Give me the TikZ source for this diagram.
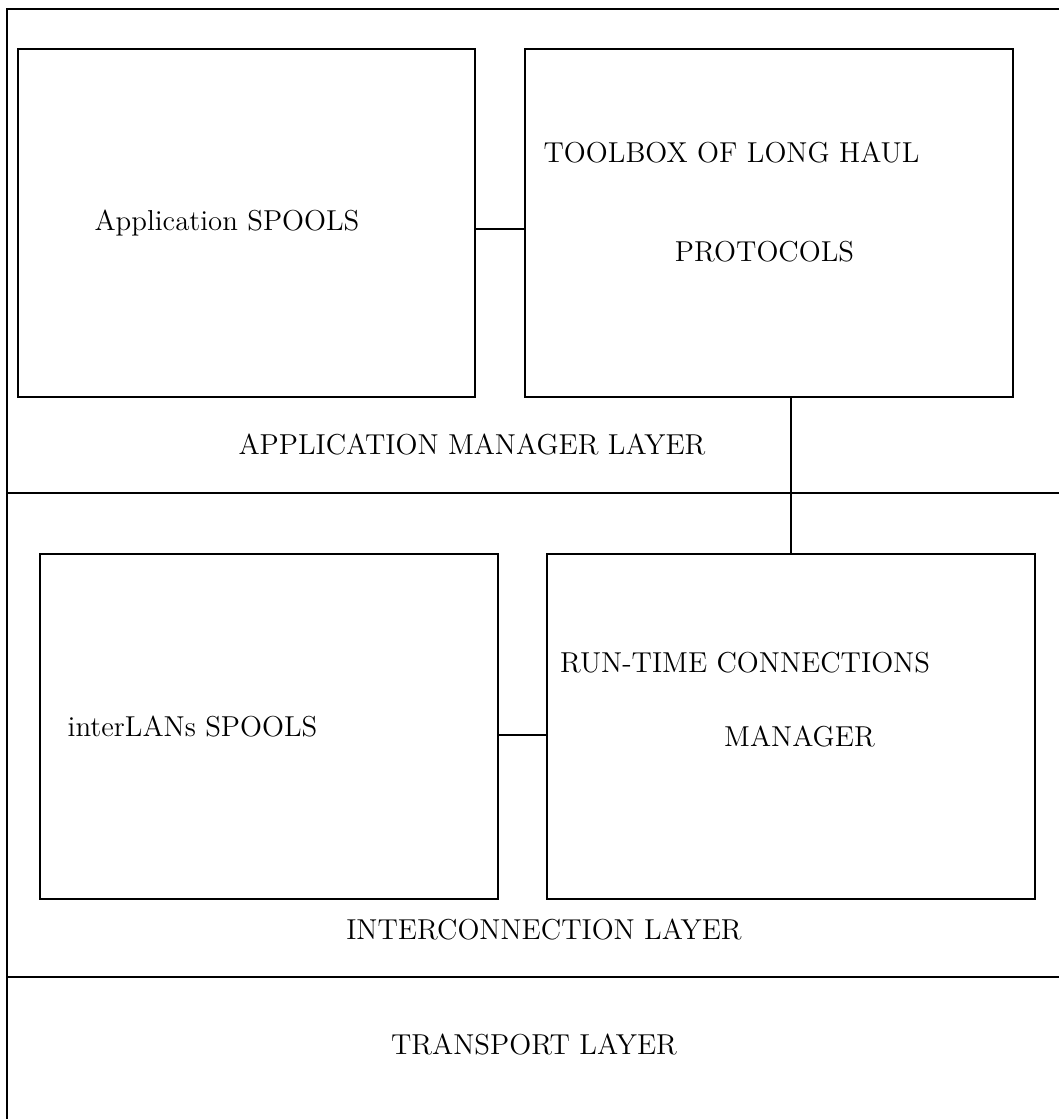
\documentclass[tikz,border=0pt]{standalone}
\usetikzlibrary{positioning}

\begin{document}
\begin{tikzpicture}[x=0.5pt,y=-0.5pt,line width=1.4pt,node distance=25pt,
  box/.style={draw,rectangle,inner sep=0pt,outer sep=0pt},
  lbl/.style={font=\Large,inner sep=0pt,text height=9.8pt,text depth=0pt}]
 \useasboundingbox (0,0) rectangle (1059,1119);

 % frame and layer borders
 \draw (1059,9) -- (7,9) -- (7,1119);
 \draw (7,493) -- (1059,493);
 \draw (7,977) -- (1059,977);

 % application manager layer
 \node[box,minimum width=228.5pt,minimum height=174pt] (appspool) at (246.5,223) {};
 \node[box,minimum width=244pt,minimum height=174pt] (toolbox) [right=of appspool] {};

 % interconnection layer
 \node[box,minimum width=229pt,minimum height=172.5pt] (lanspool) at (269,726.5) {};
 \node[box,minimum width=244pt,minimum height=172.5pt,right=24.5pt of lanspool] (runtime) {};

 % links
 \draw ([yshift=-3pt]appspool.east) -- ([yshift=-3pt]toolbox.west);
 \draw (runtime.north) -- (runtime.north |- toolbox.south);
 \draw ([yshift=-4.25pt]lanspool.east) -- ([yshift=-4.25pt]runtime.west);

 % texts
 \node[lbl] (appspooltxt) at (227,221) {Application SPOOLS};
 \node[lbl] (toolboxtxt) at (731.5,153) {TOOLBOX OF LONG HAUL};
 \node[lbl] (prototxt) at (764.5,252) {PROTOCOLS};
 \node[lbl] (applayer) at (472,445) {APPLICATION MANAGER LAYER};
 \node[lbl] (lanspooltxt) at (192.5,727) {interLANs SPOOLS};
 \node[lbl] (runtimetxt) at (745,663) {RUN-TIME CONNECTIONS};
 \node[lbl] (managertxt) at (799.5,737) {MANAGER};
 \node[lbl] (interlayer) at (544,930) {INTERCONNECTION LAYER};
 \node[lbl] (translayer) at (534,1045) {TRANSPORT LAYER};
\end{tikzpicture}
\end{document}
